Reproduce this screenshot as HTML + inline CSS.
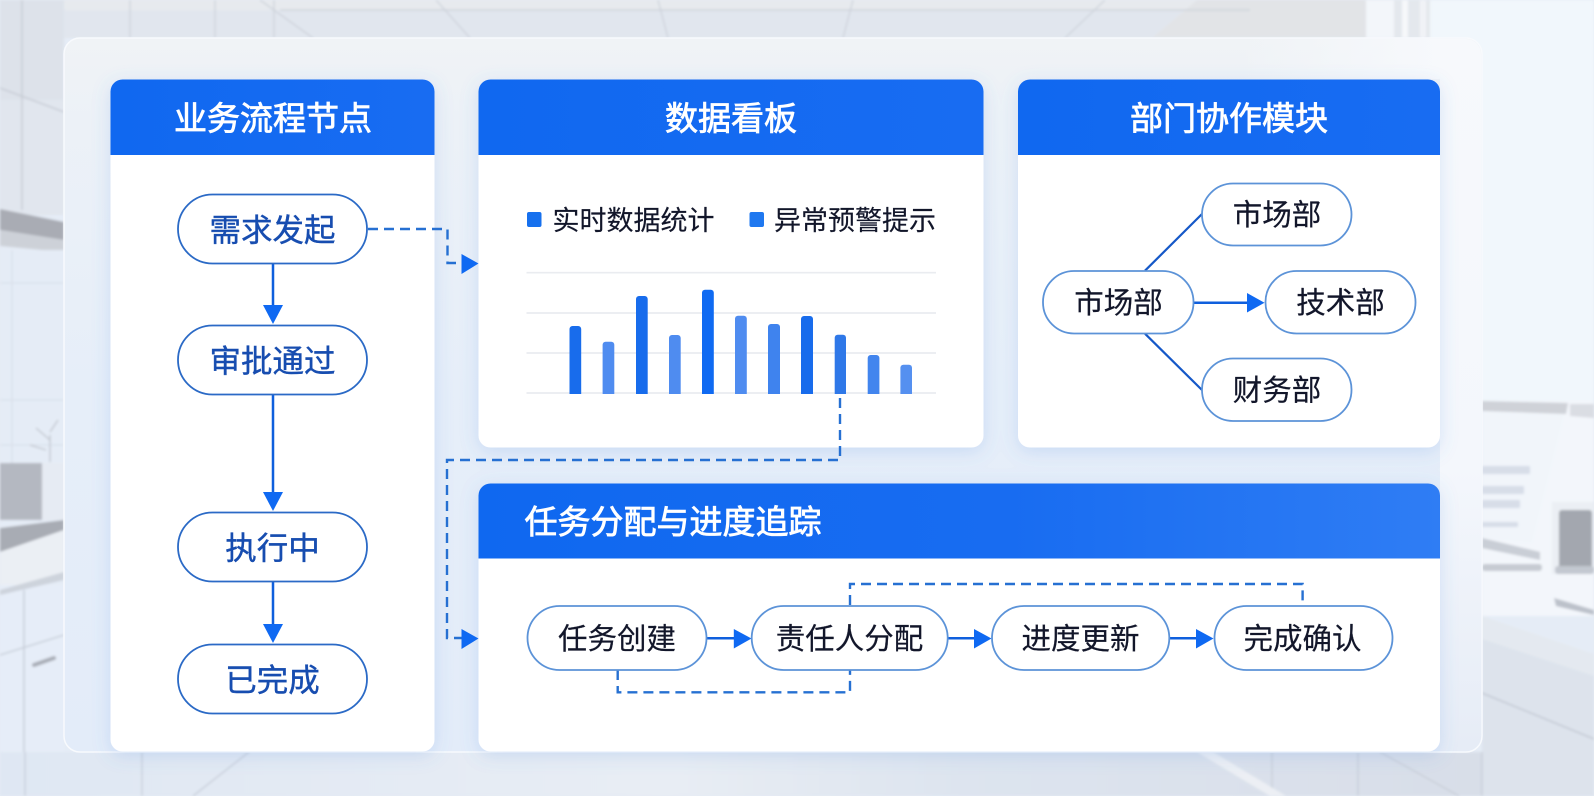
<!DOCTYPE html>
<html lang="zh-CN"><head><meta charset="utf-8"><title>业务流程</title>
<style>
html,body{margin:0;padding:0;width:1594px;height:796px;overflow:hidden;background:#e6ecf5}
svg{display:block}
text{font-family:"Liberation Sans","Noto Sans CJK SC",sans-serif;text-anchor:middle}
.t{fill:#fff;font-size:33px;stroke:#fff;stroke-width:.8px}
.b{fill:#174db0;font-size:31.5px;stroke:#174db0;stroke-width:.4px}
.d{fill:#12162a;font-size:29.5px;stroke:#12162a;stroke-width:.2px}
.l{fill:#12162a;font-size:27px;stroke:#12162a;stroke-width:.15px}
.pa{fill:#fff;stroke:#2b6ac6;stroke-width:1.8}
.pb{fill:#fff;stroke:#5c93d8;stroke-width:1.8}
.ln{stroke:#0f5fdd;stroke-width:2.5;fill:none}
.ds{stroke:#2670d2;stroke-width:2.4;fill:none;stroke-dasharray:10 6}
.h{fill:#0f69f2}
</style></head><body>
<svg width="1594" height="796" viewBox="0 0 1594 796" xmlns="http://www.w3.org/2000/svg">
<defs>
<linearGradient id="pg" x1="0" y1="0" x2="0" y2="1"><stop offset="0" stop-color="#f0f3f6"/><stop offset=".12" stop-color="#ecf1f7"/><stop offset=".5" stop-color="#e6eef9"/><stop offset="1" stop-color="#e3ecf9"/></linearGradient>
<linearGradient id="pr" x1="0" y1="0" x2="0" y2="1"><stop offset="0" stop-color="#f7f9fc"/><stop offset=".6" stop-color="#f4f7fc"/><stop offset="1" stop-color="#e6ecf6"/></linearGradient>
<linearGradient id="ptop" x1="0" y1="0" x2="1" y2="0"><stop offset="0" stop-color="#f7f9fc" stop-opacity="0"/><stop offset="1" stop-color="#f7f9fc"/></linearGradient>
<linearGradient id="hd" x1="0" y1="0" x2="1" y2="0"><stop offset="0" stop-color="#1068f0"/><stop offset="1" stop-color="#186cf2"/></linearGradient>
<linearGradient id="hd2" x1="0" y1="0" x2="1" y2="0"><stop offset="0" stop-color="#0f68f0"/><stop offset=".55" stop-color="#186cf1"/><stop offset="1" stop-color="#2f7df4"/></linearGradient>
<linearGradient id="fl" x1="0" y1="0" x2="1" y2="0"><stop offset="0" stop-color="#dfe7f3"/><stop offset=".45" stop-color="#e8edf4"/><stop offset=".65" stop-color="#dde4ef"/><stop offset="1" stop-color="#d8dee8"/></linearGradient>
<filter id="bl"><feGaussianBlur stdDeviation="1.3"/></filter>
<filter id="sh" x="-15%" y="-15%" width="130%" height="130%"><feDropShadow dx="0" dy="4" stdDeviation="9" flood-color="#4f8ae0" flood-opacity=".2"/></filter>
</defs>

<!-- background -->
<g filter="url(#bl)">
<rect width="1594" height="796" fill="#e5ecf6"/>
<rect x="0" y="0" width="1366" height="38" fill="#e1e6ee"/>
<rect x="0" y="0" width="1366" height="10" fill="#e7eaee"/>
<polygon points="1152,38 1197,0 1366,0 1366,38" fill="#e2e4e7"/>
<rect x="1366" y="0" width="28" height="38" fill="#f3f6fa"/>
<rect x="1394" y="0" width="36" height="38" fill="#e4e8ed"/>
<rect x="1402" y="0" width="6" height="38" fill="#f6f8fa"/>
<rect x="1420" y="0" width="6" height="38" fill="#f1f3f7"/>
<rect x="1430" y="0" width="164" height="401" fill="#f1f7fc"/>
<g stroke="#cbd0d8" stroke-width="1.2" fill="none">
<path d="M280 10H1250M436 0L470 38M658 0L668 38M853 0L843 38M1105 0L1065 38M260 0L313 38M215 0V38M130 0V38M274 0V38"/>
</g>
<!-- left wall -->
<rect x="0" y="0" width="64" height="215" fill="#dde2ea"/>
<rect x="0" y="100" width="64" height="115" fill="#e1e6ee"/>
<path d="M0 88L64 112M22 0V210" stroke="#c4c9d2" stroke-width="1.3" fill="none"/>
<polygon points="0,209 64,222 64,240 0,230" fill="#a9acb4"/>
<polygon points="0,230 64,240 64,252 0,246" fill="#cdd1d8"/>
<rect x="0" y="250" width="64" height="215" fill="#e5ecf6"/>
<path d="M0 283H64M12 250V465M0 400H64M0 445H64" stroke="#d6dde8" stroke-width="1" fill="none"/>
<path d="M50 462V435M50 440L36 428M50 432L58 420M46 450L30 445" stroke="#c2c7cf" stroke-width="1.4" fill="none"/>
<rect x="0" y="463" width="42" height="57" fill="#b4b8c1"/>
<rect x="42" y="463" width="22" height="57" fill="#e6ebf3"/>
<polygon points="0,528 64,520 64,530 0,552" fill="#a8acb4"/>
<polygon points="0,552 64,530 64,572 0,592" fill="#ebeff4"/>
<rect x="0" y="585" width="64" height="167" fill="#e6edf8"/>
<polygon points="0,590 64,572 64,580 0,595" fill="#cdd3dc"/>
<path d="M24 590V796M0 655L64 635" stroke="#c5ccd6" stroke-width="1.4" fill="none"/>
<path d="M34 665L54 658" stroke="#a7acb5" stroke-width="4" stroke-linecap="round" fill="none"/>
<!-- right area -->
<rect x="1482" y="401" width="112" height="215" fill="#f3f6fb"/>
<polygon points="1482,401 1567,403 1532,543 1482,538" fill="#f1f5fa"/>
<polygon points="1482,401 1568,403 1566,414 1482,411" fill="#cfd2d8"/>
<g fill="#d7dde8"><rect x="1482" y="466" width="48" height="8"/><rect x="1482" y="486" width="42" height="8"/><rect x="1482" y="500" width="38" height="8"/><rect x="1482" y="522" width="36" height="5"/></g>
<polygon points="1482,538 1540,552 1540,560 1482,548" fill="#c9ced6"/>
<rect x="1482" y="564" width="60" height="7" rx="3" fill="#c6cbd2"/>
<polygon points="1570,404 1594,404 1594,418 1570,416" fill="#dadde3"/>
<rect x="1552" y="502" width="42" height="72" fill="#ebeff4"/>
<rect x="1559" y="510" width="33" height="60" rx="3" fill="#a3a7af"/>
<rect x="1555" y="566" width="39" height="8" rx="3" fill="#c3c8d0"/>
<polygon points="1554,598 1594,610 1594,615 1556,606" fill="#bcc1ca"/>
<polygon points="1482,616 1594,654 1594,676 1482,639" fill="#e4e9f0"/>
<polygon points="1482,639 1594,676 1594,796 1482,796" fill="#dde3ec"/>
<path d="M1482 693L1594 739" stroke="#bfc5cf" stroke-width="1.3" fill="none"/>
<!-- floor -->
<rect x="0" y="752" width="1482" height="44" fill="url(#fl)"/>
<path d="M25 752V796M142 752V796M249 752L193 796M1380 752L1459 796M1482 752V796M1272 752V796M1358 752V796" stroke="#c5cbd5" stroke-width="1.2" fill="none"/>
<polygon points="1197,752 1213,752 1286,796 1270,796" fill="#eceff4"/>
</g>

<!-- glass panel -->
<rect x="64" y="38" width="1418" height="714" rx="16" fill="url(#pg)" stroke="#f8fafd" stroke-width="1.5"/>
<path d="M1440 39H1466a15 15 0 0 1 15 15V736a15 15 0 0 1-15 15H1440Z" fill="url(#pr)"/>
<rect x="1240" y="39" width="200" height="40" fill="url(#ptop)"/>

<!-- cards -->
<g filter="url(#sh)">
<rect x="110.500" y="79.500" width="324" height="672" rx="12" fill="#fff"/>
<rect x="478.500" y="79.500" width="505" height="368" rx="12" fill="#fff"/>
<rect x="1018" y="79.500" width="422" height="368" rx="12" fill="#fff"/>
<rect x="478.500" y="483.500" width="961.500" height="268" rx="12" fill="#fff"/>
</g>
<path d="M110.500 155V91.500a12 12 0 0 1 12-12H422.500a12 12 0 0 1 12 12V155Z" fill="url(#hd)"/>
<path d="M478.500 155V91.500a12 12 0 0 1 12-12H971.500a12 12 0 0 1 12 12V155Z" fill="url(#hd)"/>
<path d="M1018 155V91.500a12 12 0 0 1 12-12H1428a12 12 0 0 1 12 12V155Z" fill="url(#hd)"/>
<path d="M478.500 558.500V495.500a12 12 0 0 1 12-12H1428a12 12 0 0 1 12 12V558.500Z" fill="url(#hd2)"/>

<text class="t" x="273" y="130">业务流程节点</text>
<text class="t" x="731" y="130">数据看板</text>
<text class="t" x="1229" y="130">部门协作模块</text>
<text class="t" x="673" y="533.500">任务分配与进度追踪</text>

<!-- left column -->
<g>
<path class="ln" d="M273 263V306M273 394V493M273 582V625"/>
<polygon class="h" points="263,305 283,305 273,324"/>
<polygon class="h" points="263,492 283,492 273,511"/>
<polygon class="h" points="263,624 283,624 273,643"/>
<rect class="pa" x="178" y="194.500" width="189" height="69" rx="34.500"/>
<rect class="pa" x="178" y="325.500" width="189" height="69" rx="34.500"/>
<rect class="pa" x="178" y="512.500" width="189" height="69" rx="34.500"/>
<rect class="pa" x="178" y="644.500" width="189" height="69" rx="34.500"/>
<text class="b" x="272.500" y="241">需求发起</text>
<text class="b" x="272.500" y="372">审批通过</text>
<text class="b" x="272.500" y="559">执行中</text>
<text class="b" x="272.500" y="691">已完成</text>
</g>

<!-- dashed inter-card connectors -->
<path class="ds" d="M368 229H447.500V263H464"/>
<polygon class="h" points="461.500,254 478.500,263.500 461.500,274"/>
<path class="ds" d="M840 398V460H447V638H464"/>
<polygon class="h" points="461.500,629 478.500,638.500 461.500,649"/>

<!-- legend -->
<rect x="527" y="212" width="14.500" height="15" rx="2" fill="#1670ee"/>
<rect x="749.500" y="212" width="14.500" height="15" rx="2" fill="#1f78f0"/>
<text class="l" x="633.500" y="230">实时数据统计</text>
<text class="l" x="855" y="230">异常预警提示</text>

<!-- chart -->
<path d="M526.500 272.700H936M526.500 313H936M526.500 353H936M526.500 393H936" stroke="#eaecf0" stroke-width="1.7" fill="none"/>
<g>
<path d="M569.500 394V329a3 3 0 0 1 3-3h5.700a3 3 0 0 1 3 3V394Z" fill="#186cec"/>
<path d="M602.600 394V344.700a3 3 0 0 1 3-3h5.700a3 3 0 0 1 3 3V394Z" fill="#4f8cf0"/>
<path d="M636 394V299a3 3 0 0 1 3-3h5.700a3 3 0 0 1 3 3V394Z" fill="#186cec"/>
<path d="M669 394V338a3 3 0 0 1 3-3h5.700a3 3 0 0 1 3 3V394Z" fill="#4f8cf0"/>
<path d="M702 394V292.700a3 3 0 0 1 3-3h5.800a3 3 0 0 1 3 3V394Z" fill="#0f6af2"/>
<path d="M735 394V318.700a3 3 0 0 1 3-3h5.800a3 3 0 0 1 3 3V394Z" fill="#4f8cf0"/>
<path d="M768 394V327a3 3 0 0 1 3-3h6a3 3 0 0 1 3 3V394Z" fill="#3f83ee"/>
<path d="M801 394V319a3 3 0 0 1 3-3h6a3 3 0 0 1 3 3V394Z" fill="#186cec"/>
<path d="M834.700 394V337.700a3 3 0 0 1 3-3h5.300a3 3 0 0 1 3 3V394Z" fill="#2f78e8"/>
<path d="M867.700 394V358a3 3 0 0 1 3-3h5.700a3 3 0 0 1 3 3V394Z" fill="#4285ee"/>
<path d="M900.400 394V367.700a3 3 0 0 1 3-3h5.600a3 3 0 0 1 3 3V394Z" fill="#5590f0"/>
</g>

<!-- department module -->
<path d="M1145 270.700L1202 214M1145 333.700L1202 390" stroke="#1558c8" stroke-width="2.2" fill="none"/>
<path class="ln" d="M1194 302.700H1249"/>
<polygon class="h" points="1247,293 1264.500,302.700 1247,312.500"/>
<rect class="pb" x="1202" y="183.500" width="149.500" height="62" rx="31"/>
<rect class="pb" x="1043" y="271" width="150.500" height="62.500" rx="31"/>
<rect class="pb" x="1265.500" y="271" width="150" height="62.500" rx="31"/>
<rect class="pb" x="1202" y="358.500" width="149.500" height="62.500" rx="31"/>
<text class="d" x="1277" y="225">市场部</text>
<text class="d" x="1118.500" y="313">市场部</text>
<text class="d" x="1340.500" y="313">技术部</text>
<text class="d" x="1277" y="400.500">财务部</text>

<!-- task flow -->
<path class="ds" d="M850 605V584H1302.600V605"/>
<path class="ds" d="M617.700 670V692.300H850V670"/>
<path class="ln" d="M707 638.300H736M948 638.300H976M1169.500 638.300H1198"/>
<polygon class="h" points="733.800,629 751.500,638.500 733.800,648.500"/>
<polygon class="h" points="974,629 991.500,638.500 974,648.500"/>
<polygon class="h" points="1196,629 1213.500,638.500 1196,648.500"/>
<rect class="pb" x="527.500" y="606" width="179" height="64" rx="32"/>
<rect class="pb" x="751.700" y="606" width="196" height="64" rx="32"/>
<rect class="pb" x="992" y="606" width="177.300" height="64" rx="32"/>
<rect class="pb" x="1214.500" y="606" width="178" height="64" rx="32"/>
<text class="d" x="617" y="649">任务创建</text>
<text class="d" x="849.500" y="649">责任人分配</text>
<text class="d" x="1080.500" y="649">进度更新</text>
<text class="d" x="1302.500" y="649">完成确认</text>
</svg>
</body></html>
